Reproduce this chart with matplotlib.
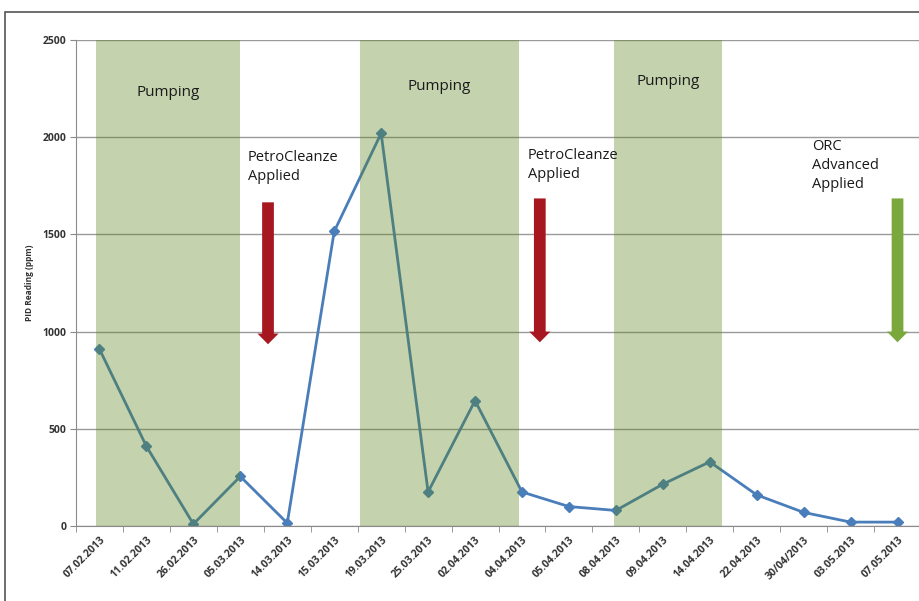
import matplotlib.pyplot as plt
from matplotlib.patches import Rectangle, FancyArrow

# data
dates = ['07.02.2013', '11.02.2013', '26.02.2013', '05.03.2013', '14.03.2013',
         '15.03.2013', '19.03.2013', '25.03.2013', '02.04.2013', '04.04.2013',
         '05.04.2013', '08.04.2013', '09.04.2013', '14.04.2013', '22.04.2013',
         '30/04/2013', '03.05.2013', '07.05.2013']
pid = [910, 410, 10, 255, 15, 1515, 2020, 175, 645, 175,
       100, 80, 215, 330, 160, 70, 20, 20]

# pumping periods (category index start/end)
pump_start = [-0.08, 5.54, 10.96]
pump_end = [3.0, 8.94, 13.27]
pump_label_y = [2230, 2260, 2285]

# treatment arrows: x position, top, bottom, colour
arrow_x = [3.59, 9.38, 17.0]
arrow_top = [1665, 1685, 1685]
arrow_bot = [935, 945, 945]
arrow_col = ['#A6171F', '#A6171F', '#7AA83C']
note_x = [3.16, 9.13, 15.18]
note_y = [1935, 1945, 1990]
notes = ['PetroCleanze\nApplied', 'PetroCleanze\nApplied', 'ORC\nAdvanced\nApplied']

plt.rcParams['font.family'] = ['Open Sans', 'DejaVu Sans']

fig = plt.figure(figsize=(9.19, 6.01), dpi=100)
# outer chart border
fig.patches.append(Rectangle((5 / 919, -0.05), 1.2, 1 - 12 / 601 + 0.05,
                             transform=fig.transFigure, fill=False,
                             edgecolor='#555555', linewidth=1.2))

ax = fig.add_axes([76 / 919, 1 - 526 / 601, (921 - 76) / 919, (526 - 40) / 601])

x = list(range(len(dates)))
ax.plot(x, pid, color='#4A7EBB', linewidth=2, marker='D', markersize=5, zorder=2)

for s, e, ly in zip(pump_start, pump_end, pump_label_y):
    # semi-transparent shade on top of the line, like the original
    ax.axvspan(s, e, color='#578115', alpha=0.35, linewidth=0, zorder=3)
    ax.text((s + e) / 2, ly, 'Pumping', ha='center', va='center',
            fontsize=11, color='#1a1a1a', zorder=5)

for xa, t, b, c in zip(arrow_x, arrow_top, arrow_bot, arrow_col):
    ax.add_patch(FancyArrow(xa, t, 0, b - t, width=0.25, head_width=0.45,
                            head_length=55, length_includes_head=True,
                            color=c, linewidth=0, zorder=6))

for nx, ny, n in zip(note_x, note_y, notes):
    ax.text(nx, ny, n, ha='left', va='top', fontsize=10.5, color='#1a1a1a',
            linespacing=1.35, zorder=5)

ax.set_xlim(-0.5, len(dates) - 0.5)
ax.set_ylim(0, 2500)
ax.set_yticks(range(0, 2501, 500))
ax.yaxis.grid(True, color='#9A9A9A', linewidth=1, zorder=1)
ax.set_axisbelow(True)

ax.set_xticks(x)
ax.set_xticklabels(dates, rotation=45, ha='right', rotation_mode='anchor',
                   fontsize=7.5, fontweight='bold', color='#333333')
ax.set_xticks([i + 0.5 for i in x[:-1]] + [-0.5], minor=True)
ax.tick_params(axis='x', which='major', length=0, pad=6)
ax.tick_params(axis='x', which='minor', length=4, color='#8A8A8A', direction='out')
ax.tick_params(axis='y', length=4, color='#8A8A8A', labelsize=7.5, pad=3)
for lab in ax.get_yticklabels():
    lab.set_fontweight('bold')
    lab.set_color('#333333')

ax.set_ylabel('PID Reading (ppm)', fontsize=6, fontweight='bold', color='#333333', labelpad=6)

for side in ['top', 'right']:
    ax.spines[side].set_visible(False)
ax.spines['left'].set_color('#8A8A8A')
ax.spines['bottom'].set_color('#8A8A8A')

fig.savefig('out.png', dpi=100)
